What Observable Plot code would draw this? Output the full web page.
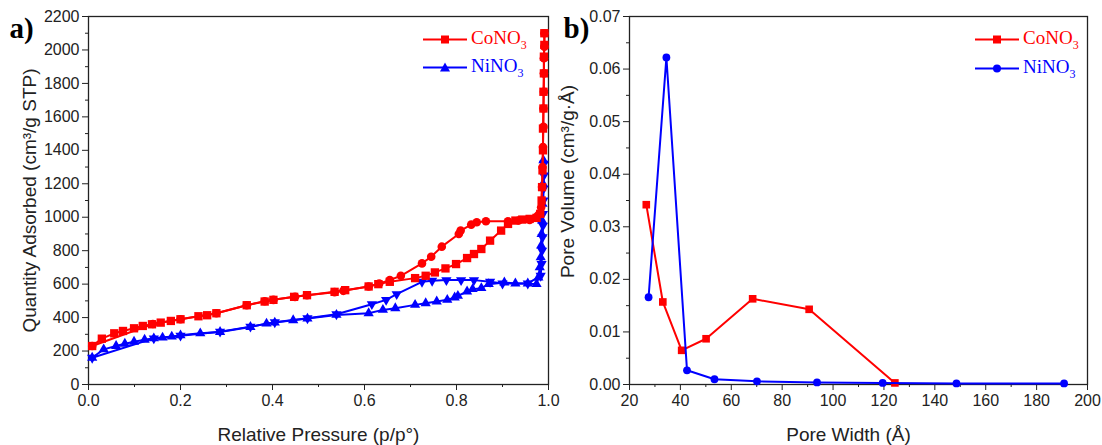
<!DOCTYPE html>
<html><head><meta charset="utf-8">
<script src="https://cdn.jsdelivr.net/npm/d3@7"></script>
<script src="https://cdn.jsdelivr.net/npm/@observablehq/plot@0.6"></script>
<style>
body{margin:0;background:#fff;}
#wrap{position:relative;width:1102px;height:445px;overflow:hidden;background:#fff;}
.panel{position:absolute;top:0;}
.leg{position:absolute;font-family:"Liberation Serif","Times New Roman",serif;font-size:19px;line-height:19px;white-space:nowrap;}
.leg svg{vertical-align:middle;margin-right:4px;}
.leg sub{font-size:12px;vertical-align:-5px;line-height:0;}
</style></head>
<body><div id="wrap"></div>
<script>
// ---------- panel a) N2 isotherms ----------
const coAdsP = [0.008,0.029,0.056,0.075,0.099,0.118,0.138,0.157,0.179,0.2,0.239,0.258,0.278,0.344,0.383,0.402,0.447,0.475,0.535,0.558,0.609,0.630,0.655,0.710,0.733,0.753,0.776,0.799,0.823,0.838,0.854,0.873,0.897,0.912,0.928,0.943,0.959,0.974,0.982,0.985,0.986,0.987,0.988,0.988,0.989,0.989,0.990,0.990,0.991,0.991];
const coAdsV = [230,274,306,320,336,350,360,370,380,390,408,414,426,474,496,506,524,534,554,564,586,600,614,636,650,670,694,720,756,780,810,860,920,960,980,986,990,996,1020,1100,1180,1280,1400,1530,1650,1750,1860,1960,2030,2100];
const coDesP = [0.991,0.991,0.990,0.990,0.990,0.989,0.989,0.988,0.987,0.986,0.984,0.959,0.935,0.912,0.864,0.844,0.832,0.809,0.805,0.768,0.745,0.725,0.679,0.655,0.632,0.609,0.554,0.535,0.475,0.449,0.402,0.383,0.344,0.278,0.2,0.14,0.008];
const coDesV = [2100,2020,1950,1860,1750,1650,1540,1420,1300,1180,1060,984,980,976,976,970,956,920,900,824,764,724,650,624,604,586,560,552,534,524,506,498,474,426,390,362,230];
const niAdsP = [0.008,0.033,0.06,0.079,0.099,0.122,0.142,0.161,0.181,0.2,0.243,0.286,0.352,0.387,0.405,0.445,0.476,0.539,0.609,0.64,0.667,0.710,0.733,0.757,0.780,0.796,0.803,0.823,0.835,0.854,0.870,0.904,0.928,0.955,0.974,0.978,0.981,0.983,0.984,0.985,0.986,0.987,0.988,0.989];
const niAdsV = [160,210,230,244,256,268,276,280,286,294,306,314,344,364,370,384,394,416,426,446,456,476,486,496,506,520,530,556,570,576,600,610,604,604,600,640,700,760,830,900,980,1080,1200,1340];
const niDesP = [0.990,0.990,0.989,0.989,0.988,0.988,0.987,0.986,0.985,0.983,0.955,0.9,0.873,0.838,0.81,0.778,0.747,0.725,0.67,0.647,0.616,0.539,0.476,0.405,0.352,0.286,0.2,0.142,0.008];
const niDesV = [1320,1250,1170,1100,1020,950,880,800,720,650,604,604,614,624,624,624,620,614,540,506,480,420,396,372,346,316,292,276,160];
const xTicksA = [0,0.2,0.4,0.6,0.8,1.0];
const yTicksA = [0,200,400,600,800,1000,1200,1400,1600,1800,2000,2200];

// ---------- panel b) pore size distribution ----------
const coPoreW = [26.6,33.1,40.5,50.1,68.4,90.6,124.3];
const coPoreV = [0.0342,0.0157,0.0065,0.0087,0.0163,0.0143,0.0003];
const niPoreW = [27.5,34.5,42.6,53.4,70.1,93.7,119.5,148.5,190.8];
const niPoreV = [0.0166,0.0622,0.0027,0.0010,0.0006,0.0004,0.0003,0.0002,0.0002];
const xTicksB = [20,40,60,80,100,120,140,160,180,200];
const yTicksB = [0,0.01,0.02,0.03,0.04,0.05,0.06,0.07];

const RED = "#ff0000", BLUE = "#0000ff", INK = "#222";
const toRows = (xs, ys) => xs.map((x, i) => ({x, y: ys[i]}));
const coAds = toRows(coAdsP, coAdsV), coDes = toRows(coDesP, coDesV);
const niAds = toRows(niAdsP, niAdsV), niDes = toRows(niDesP, niDesV);
const coPore = toRows(coPoreW, coPoreV), niPore = toRows(niPoreW, niPoreV);

function minors(ticks) {
  const out = [];
  for (let i = 0; i < ticks.length - 1; i++) out.push((ticks[i] + ticks[i + 1]) / 2);
  return out;
}
function axes(xT, yT, xf, yf) {
  return [
    Plot.axisX({ticks: xT, tickSize: 6, tickPadding: 4, tickFormat: xf, label: null, stroke: INK}),
    Plot.axisX({ticks: minors(xT), tickSize: 3, tickFormat: () => "", label: null, stroke: INK}),
    Plot.axisY({ticks: yT, tickSize: 6, tickPadding: 3, tickFormat: yf, label: null, stroke: INK}),
    Plot.axisY({ticks: minors(yT), tickSize: 3, tickFormat: () => "", label: null, stroke: INK}),
    Plot.frame({stroke: INK, strokeWidth: 1.3})
  ];
}
const common = {
  width: 551, height: 445, marginTop: 16, marginBottom: 61,
  style: {fontFamily: "'Liberation Sans', Arial, sans-serif", fontSize: "16px", color: INK, background: "transparent", overflow: "visible"}
};
const series = (rows, color, symbol, r, extra = {}) => [
  Plot.line(rows, {x: "x", y: "y", stroke: color, strokeWidth: 2}),
  Plot.dot(rows, {x: "x", y: "y", fill: color, symbol, r, ...extra})
];
const titleY = (s, dx, dy) => Plot.text([s], {text: d => d, frameAnchor: "left", rotate: -90, textAnchor: "middle", lineAnchor: "middle", dx, dy, fontSize: 19, fill: INK});
const titleX = (s, dx, dy) => Plot.text([s], {text: d => d, frameAnchor: "bottom", textAnchor: "middle", lineAnchor: "middle", dx, dy, fontSize: 19, fill: INK});
const tag = (s, dx) => Plot.text([s], {text: d => d, frameAnchor: "top-left", dx, dy: 1, textAnchor: "start", lineAnchor: "top", fontSize: 29, fontWeight: "bold", fontFamily: "'Liberation Serif', 'Times New Roman', serif", fill: "#000"});

const pA = Plot.plot({
  ...common, marginLeft: 88, marginRight: 3,
  x: {domain: [0, 1]}, y: {domain: [0, 2200]},
  marks: [
    ...axes(xTicksA, yTicksA, d => d.toFixed(1), d => String(d)),
    ...series(niDes, BLUE, "triangle", 3.8, {rotate: 180}),
    ...series(niAds, BLUE, "triangle", 3.8),
    ...series(coDes, RED, "circle", 4.3),
    ...series(coAds, RED, "square", 4.7),
    titleY("Quantity Adsorbed (cm³/g STP)", -59, 0),
    titleX("Relative Pressure (p/p°)", 0, 50),
    tag("a)", -79)
  ]
});

const pB = Plot.plot({
  ...common, marginLeft: 78, marginRight: 15,
  x: {domain: [20, 200]}, y: {domain: [0, 0.07]},
  marks: [
    ...axes(xTicksB, yTicksB, d => String(d), d => d.toFixed(2)),
    ...series(coPore, RED, "square", 4.3),
    ...series(niPore, BLUE, "circle", 3.9),
    titleY("Pore Volume (cm³/g·Å)", -62, -19),
    titleX("Pore Width (Å)", -10, 50),
    tag("b)", -66)
  ]
});

const wrap = document.getElementById("wrap");
pA.classList.add("panel"); pA.style.left = "0px";
pB.classList.add("panel"); pB.style.left = "551px";
wrap.append(pA, pB);

// legends
const legends = [
  {left: 423, top: 28, color: RED, shape: "square", name: "CoNO"},
  {left: 423, top: 56, color: BLUE, shape: "triangle", name: "NiNO"},
  {left: 975, top: 28, color: RED, shape: "square", name: "CoNO"},
  {left: 975, top: 57, color: BLUE, shape: "circle", name: "NiNO"}
];
for (const L of legends) {
  const div = document.createElement("div");
  div.className = "leg";
  div.style.left = L.left + "px";
  div.style.top = L.top + "px";
  div.style.color = L.color;
  let m;
  if (L.shape === "square") m = `<rect x="18" y="5.5" width="8" height="8" fill="${L.color}"/>`;
  else if (L.shape === "triangle") m = `<path d="M22,4.5 L27,13.5 L17,13.5 Z" fill="${L.color}"/>`;
  else m = `<circle cx="22" cy="9.5" r="4" fill="${L.color}"/>`;
  div.innerHTML = `<svg width="44" height="19"><line x1="0" x2="44" y1="9.5" y2="9.5" stroke="${L.color}" stroke-width="2"/>${m}</svg>${L.name}<sub>3</sub>`;
  wrap.append(div);
}
</script>
</body></html>
